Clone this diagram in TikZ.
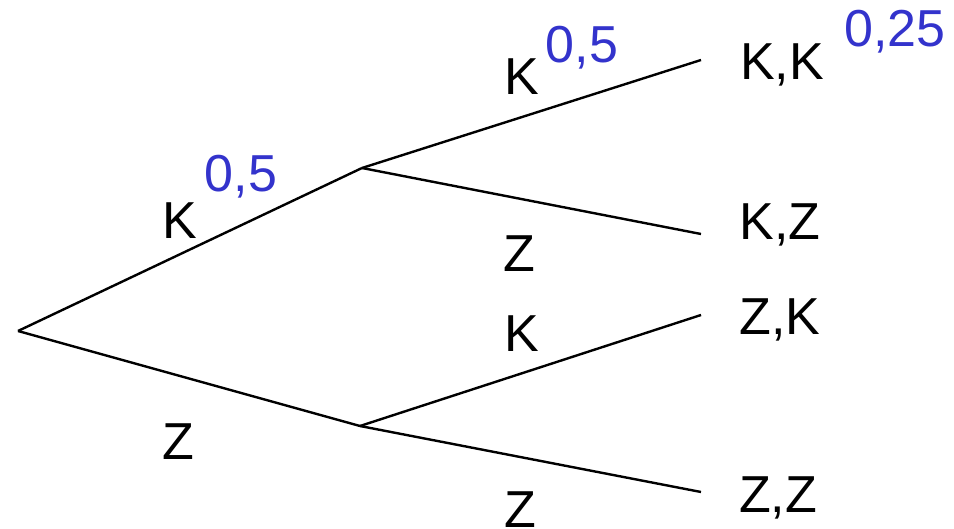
\documentclass[tikz,border=0pt]{standalone}
\usepackage{fontspec}
\setmainfont{Liberation Sans}
\definecolor{probblue}{RGB}{51,51,204}
\begin{document}
\begin{tikzpicture}[x=1pt,y=-1pt,
  branch/.style={line width=2.4pt},
  lbl/.style={inner sep=0pt,anchor=base,font=\fontsize{52}{52}\selectfont},
  prob/.style={lbl,text=probblue}]
\useasboundingbox (0,0) rectangle (954,529);
% tree points
\coordinate (root) at (18,331);
\coordinate (mK) at (362,168);
\coordinate (mZ) at (360,426);
\coordinate (eKK) at (701,60);
\coordinate (eKZ) at (701,234);
\coordinate (eZK) at (701,315);
\coordinate (eZZ) at (701,492);
% branches
\draw[branch] (root) -- (mK);
\draw[branch] (root) -- (mZ);
\draw[branch] (mK) -- (eKK);
\draw[branch] (mK) -- (eKZ);
\draw[branch] (mZ) -- (eZK);
\draw[branch] (mZ) -- (eZZ);
% branch labels
\node[lbl] (lK1) at (180,239) {K};
\node[prob] (pK1) at (241,192) {0,5};
\node[lbl] (lZ1) at (178,460) {Z};
\node[lbl] (lK2) at (522,95) {K};
\node[prob] (pK2) at (582,63) {0,5};
\node[lbl] (lZ2) at (519,272) {Z};
\node[lbl] (lK3) at (522,352) {K};
\node[lbl] (lZ3) at (520,527) {Z};
% outcomes
\node[lbl] (oKK) at (782,80) {K,K};
\node[prob] (pKK) at (895,47) {0,25};
\node[lbl] (oKZ) at (780,240) {K,Z};
\node[lbl] (oZK) at (780,335) {Z,K};
\node[lbl] (oZZ) at (778,512) {Z,Z};
\end{tikzpicture}
\end{document}
